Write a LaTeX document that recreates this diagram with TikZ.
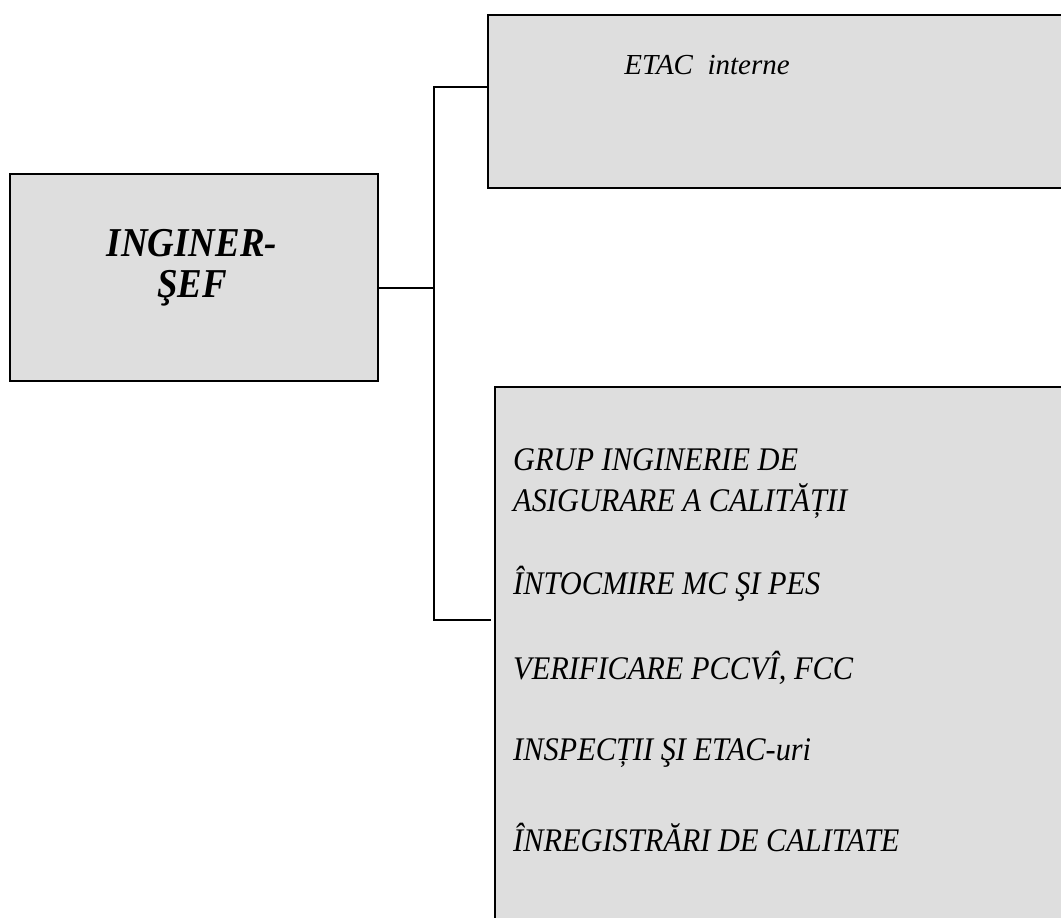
\documentclass[tikz,border=0pt]{standalone}
\usepackage{fontspec}
\setmainfont{Liberation Serif}
\newfontfamily\condserif[FakeStretch=0.92]{Liberation Serif}
\newfontfamily\condbold[FakeStretch=0.9]{Liberation Serif}
\begin{document}
\begin{tikzpicture}[x=1pt,y=-1pt,
  box/.style={draw=black,line width=2pt,fill=black!13},
  conn/.style={draw=black,line width=2pt},
  item/.style={anchor=west,inner sep=0pt,font=\condserif\fontsize{33}{38}\selectfont\itshape}]
\useasboundingbox (0,0) rectangle (1061,918);
% boxes
\path[box] (10,174) rectangle (378,381);
\path[box] (488,15) rectangle (1075,188);
\path[box] (495,387) rectangle (1075,930);
\node[align=center,inner sep=0pt,font=\condbold\fontsize{41}{41}\selectfont\bfseries\itshape] (sefText) at (192,268) {INGINER-\\ŞEF};
\node[inner sep=0pt,font=\fontsize{29}{34}\selectfont\itshape] (etac) at (707,65) {ETAC\ \ interne};
\coordinate (sefR) at (378,288);
\coordinate (topL) at (488,87);
\coordinate (botL) at (491,620);
\coordinate (j) at (434,288);
\draw[conn] (sefR) -- (j);
\draw[conn] (topL) -| (434,620) -- (botL);
% bottom box texts
\node[item] (g1) at (513,460) {GRUP INGINERIE DE};
\node[item] (g2) at (513,501) {ASIGURARE A CALITĂȚII};
\node[item] (g3) at (513,584) {ÎNTOCMIRE MC ŞI PES};
\node[item] (g4) at (513,668) {VERIFICARE PCCVÎ, FCC};
\node[item] (g5) at (513,753) {INSPECȚII ŞI ETAC-uri};
\node[item] (g6) at (513,837) {ÎNREGISTRĂRI DE CALITATE};
\end{tikzpicture}
\end{document}
